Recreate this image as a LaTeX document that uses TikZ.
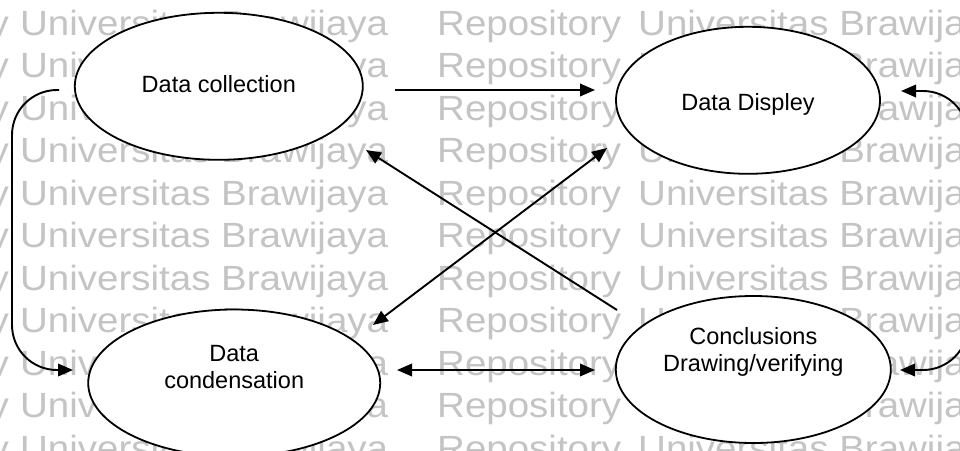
\documentclass[tikz,border=0pt]{standalone}
\usepackage{graphicx}
\usepackage{fontspec}
\setmainfont{Liberation Sans}
\usetikzlibrary{arrows.meta,shapes.geometric}
\definecolor{wm}{RGB}{196,196,196}
\newcommand\wmbox[1]{\scalebox{1.1}[1]{#1}}
\begin{document}
\begin{tikzpicture}[x=1pt,y=-1pt,
  oval/.style={ellipse, draw=black, line width=1.8pt, fill=white, inner sep=0pt},
  lbl/.style={font=\fontsize{23.5}{26.5}\selectfont, align=center, inner sep=0pt},
  conn/.style={line width=1.9pt, -{Triangle[length=15pt,width=12.5pt]}},
  bconn/.style={line width=1.9pt, {Triangle[length=15pt,width=12.5pt]}-{Triangle[length=15pt,width=12.5pt]}},
  wmark/.style={font=\fontsize{35}{40}\selectfont, text=wm, inner sep=0pt}
]
\useasboundingbox (0,0) rectangle (960,450);
\clip (0,0) rectangle (960,450);
\fill[white] (0,0) rectangle (960,450);
% watermark
\foreach \k in {0,...,10}{
  \pgfmathsetmacro\b{35+42.5*\k}
  \node[wmark, anchor=base east] (wma\k) at (9,\b) {\wmbox{Repository}};
  \node[wmark, anchor=base west] (wmb\k) at (20,\b) {\wmbox{Universitas Brawijaya}};
  \node[wmark, anchor=base west] (wmc\k) at (437,\b) {\wmbox{Repository}};
  \node[wmark, anchor=base west] (wmd\k) at (638,\b) {\wmbox{Universitas Brawijaya}};
}
% ellipses
\node[oval, minimum width=288pt, minimum height=147pt] (coll) at (218.8,86.3) {};
\node[oval, minimum width=264pt, minimum height=147pt] (disp) at (748,100.3) {};
\node[oval, minimum width=292pt, minimum height=147pt] (cond) at (234.2,383) {};
\node[oval, minimum width=275pt, minimum height=147pt] (conc) at (753.3,369.5) {};
% labels
\node[lbl] (colltxt) at ([yshift=2.3pt]coll.center) {Data collection};
\node[lbl] (disptxt) at ([yshift=-3.7pt]disp.center) {Data Displey};
\node[lbl] (condtxt) at ([yshift=16pt]cond.center) {Data\\condensation};
\node[lbl] (conctxt) at ([yshift=17.5pt]conc.center) {Conclusions\\Drawing/verifying};
% connectors
\draw[conn] ([shift={(176.2,3.7)}]coll.center) -- ([shift={(-153,-10.3)}]disp.center);
\draw[conn, rounded corners=45pt] ([shift={(-159.8,3.7)}]coll.center) -- ++(-47,0) -- ++(0,280) -- ([shift={(-161.2,-13)}]cond.center);
\draw[bconn, rounded corners=45pt] ([shift={(153,-9.3)}]disp.center) -- ++(67,0) -- ++(0,279) -- ([shift={(146.7,0.5)}]conc.center);
\draw[bconn] ([shift={(162.8,-13)}]cond.center) -- ([shift={(-158.3,0.5)}]conc.center);
\draw[conn] ([shift={(-136.3,-59.5)}]conc.center) -- ([shift={(147.2,63.7)}]coll.center);
\draw[bconn] ([shift={(138.8,-58)}]cond.center) -- ([shift={(-141,47.7)}]disp.center);
\end{tikzpicture}
\end{document}
